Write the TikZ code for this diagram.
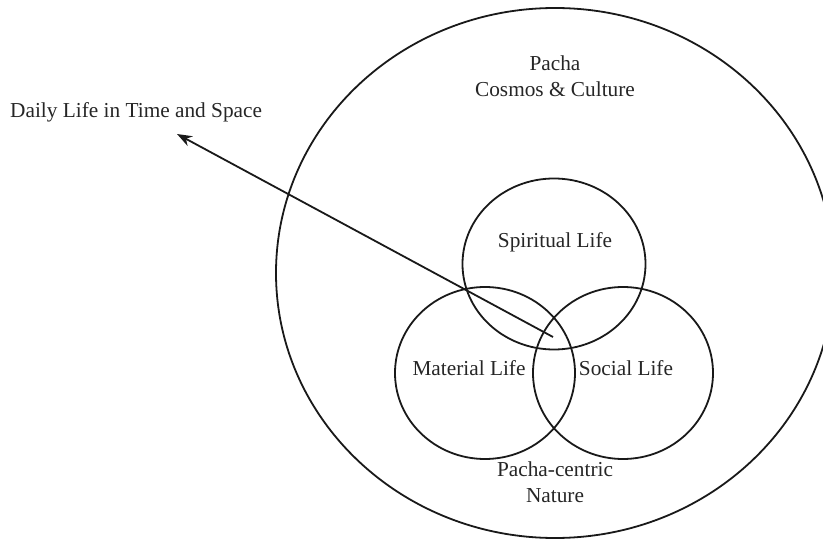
\documentclass[tikz,border=0pt]{standalone}
\usepackage{fontspec}
\setmainfont{Liberation Serif}
\usetikzlibrary{shapes.geometric,arrows.meta}
\begin{document}
\begin{tikzpicture}[x=1pt,y=-1pt,
  ring/.style={draw=black!90,line width=1.8pt,ellipse,inner sep=0pt},
  lbl/.style={text=black!85,font=\fontsize{21.3}{26}\selectfont,align=center,inner sep=0pt},
  pointer/.style={draw=black!90,line width=1.8pt,-{Stealth[length=15pt,width=11pt]}}]
  \useasboundingbox (0,0) rectangle (823,540);
  % outer Pacha field
  \node[ring,minimum width=558pt,minimum height=530pt] (pacha) at (555,273) {};
  % the three spheres of life
  \node[ring,minimum width=183pt,minimum height=171pt] (spirit) at (554,264) {};
  \node[ring,minimum width=180pt,minimum height=172pt] (material) at (485,373) {};
  \node[ring,minimum width=180pt,minimum height=172pt] (social) at (623,373) {};
  % labels
  \node[lbl] (pachalbl) at (555,76) {Pacha\\Cosmos \& Culture};
  \node[lbl] (spiritlbl) at (555,242) {Spiritual Life};
  \node[lbl] (materiallbl) at (469,368) {Material Life};
  \node[lbl] (sociallbl) at (626,368) {Social Life};
  \node[lbl] (naturelbl) at (555,482) {Pacha-centric\\Nature};
  \node[lbl,anchor=west] (daily) at (10,112) {Daily Life in Time and Space};
  % pointer from the shared centre out to daily life
  \coordinate (core) at (553,337);
  \coordinate (tip) at (177,134);
  \draw[pointer] (core) -- (tip);
\end{tikzpicture}
\end{document}
